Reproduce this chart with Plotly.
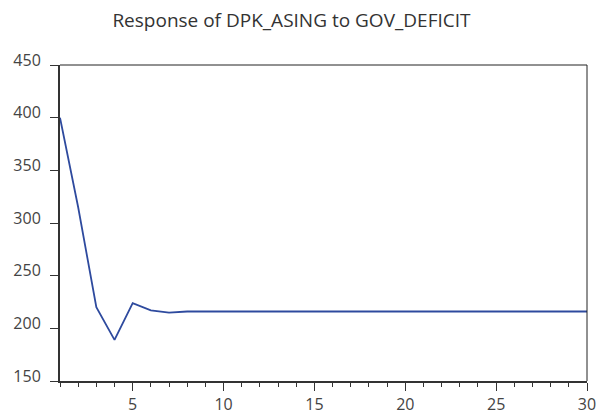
import plotly.graph_objects as go

periods = list(range(1, 31))
response = [400, 315, 220, 189, 224, 217, 215, 216, 216, 215.8,
            216, 216, 216, 216, 216, 216, 216, 216, 216, 216,
            216, 216, 216, 216, 216, 216, 216, 216, 216, 216]
y_ticks = [150, 200, 250, 300, 350, 400, 450]
x_ticks = [5, 10, 15, 20, 25, 30]

fig = go.Figure()
fig.add_trace(go.Scatter(x=periods, y=response, mode="lines",
                         line=dict(color="#2E4A9E", width=1.8),
                         showlegend=False, hoverinfo="skip"))

font_family = "Open Sans, Noto Sans, sans-serif"
fig.update_layout(
    width=596, height=411,
    margin=dict(l=60, r=9, t=65, b=30),
    paper_bgcolor="white", plot_bgcolor="white",
    title=dict(text="Response of DPK_ASING to GOV_DEFICIT",
               x=0.489, xanchor="center", y=0.951, yanchor="middle",
               font=dict(family=font_family, size=19, color="#333333")),
    font=dict(family=font_family, size=16, color="#444444"),
)
fig.update_xaxes(range=[1, 30], tickvals=x_ticks, ticktext=[str(v) for v in x_ticks],
                 automargin=False, ticklabeloverflow="allow",
                 ticks="outside", ticklen=8, tickwidth=1.2, tickcolor="#333333",
                 showgrid=False, zeroline=False,
                 showline=True, linecolor="#333333", linewidth=2,
                 minor=dict(dtick=1, tick0=0, ticks="outside", ticklen=4,
                            tickwidth=1.2, tickcolor="#333333", showgrid=False))
fig.update_yaxes(range=[150, 450], tickvals=y_ticks, automargin=False,
                 ticklabelposition="outside", ticklabeloverflow="allow",
                 ticklabelshift=-5,
                 ticks="outside", ticklen=8, tickwidth=1.2, tickcolor="#333333",
                 ticklabelstandoff=6,
                 showgrid=False, zeroline=False,
                 showline=True, linecolor="#333333", linewidth=2)
# top and right frame
fig.add_shape(type="line", xref="x domain", yref="y domain", x0=0, x1=1, y0=1, y1=1,
              line=dict(color="#222222", width=1))
fig.add_shape(type="line", xref="x domain", yref="y domain", x0=1, x1=1, y0=0, y1=1,
              line=dict(color="#222222", width=1))

fig.write_html("out.html", config={"displayModeBar": False},
               post_script="document.body.style.margin='0';document.body.style.overflow='hidden';")
